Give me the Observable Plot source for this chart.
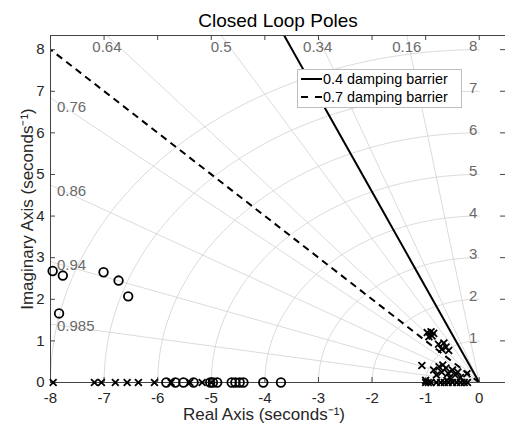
<!DOCTYPE html>
<html><head><meta charset="utf-8">
<script src="https://cdn.jsdelivr.net/npm/d3@7"></script>
<script src="https://cdn.jsdelivr.net/npm/@observablehq/plot@0.6"></script>
<style>
body{margin:0;background:#fff;font-family:"Liberation Sans",Arial,sans-serif}
#wrap{position:relative;width:505px;height:433px;overflow:hidden}
#legend{position:absolute;left:297px;top:69px;width:163px;height:37px;background:#fff;border:1px solid #bdbdbd;font-size:14.4px;color:#000}
#legend .row{position:absolute;left:0;height:18px;display:flex;align-items:center}
#legend svg{margin-left:3px;margin-right:1px}
</style></head><body><div id="wrap"><div id="legend"></div></div>
<script>
// ---- data ----
const zetaGrid = [0.16, 0.34, 0.5, 0.64, 0.76, 0.86, 0.94, 0.985];
const wnGrid = [1, 2, 3, 4, 5, 6, 7, 8];
const xTicks = [-8, -7, -6, -5, -4, -3, -2, -1, 0];
const yTicks = [0, 1, 2, 3, 4, 5, 6, 7, 8];
const barrierZeta = [0.4, 0.707];
const barrierLabels = ["0.4 damping barrier", "0.7 damping barrier"];
const barrierDash = [null, "7,5"];

// zeros (circles)
const zeroRe = [-7.96, -7.77, -7.84, -7.01, -6.73, -6.55,
  -5.84, -5.67, -5.52, -5.33, -5.02, -4.97, -4.89, -4.62, -4.55, -4.47, -4.40, -4.03, -3.70];
const zeroIm = [2.68, 2.57, 1.66, 2.65, 2.45, 2.07,
  0, 0, 0, 0, 0, 0, 0, 0, 0, 0, 0, 0, 0];

// poles (crosses)
const poleRe = [-7.95, -7.18, -7.05, -6.79, -6.57, -6.36, -6.06, -5.75, -5.40, -5.17, -5.00,
  -0.97, -0.90, -0.88, -0.94, -0.85,
  -0.76, -0.66, -0.62, -0.70, -0.57,
  -1.07, -0.85, -0.75, -0.68, -0.62, -0.70, -0.58, -0.50, -0.45, -0.40, -0.35, -0.80, -0.55, -0.23,
  -1.00, -0.95, -0.90, -0.80, -0.72, -0.65, -0.58, -0.50, -0.42, -0.35, -0.28, -0.22, -1.00, -0.60];
const poleIm = [0, 0, 0, 0, 0, 0, 0, 0, 0, 0, 0,
  1.20, 1.22, 1.12, 1.10, 1.18,
  0.92, 0.95, 0.85, 0.80, 0.77,
  0.41, 0.30, 0.38, 0.42, 0.35, 0.25, 0.22, 0.30, 0.18, 0.25, 0.12, 0.18, 0.12, 0.21,
  0, 0, 0, 0, 0, 0, 0, 0, 0, 0, 0, 0, 0.05, 0.05];

const xDomain = [-8, 0.49];
const yDomain = [0, 8.34];

// ---- derived tables ----
const W = 505, H = 433, mL = 50, mR = 0, mT = 35, mB = 51;
const pw = W - mL - mR, ph = H - mT - mB;
const zeros = zeroRe.map((x, i) => ({x, y: zeroIm[i]}));
const poles = poleRe.map((x, i) => ({x, y: poleIm[i]}));
const arcs = wnGrid.flatMap(w => d3.range(0, 90.5, 1.5).map(a => ({w, x: -w * Math.cos(a * Math.PI / 180), y: w * Math.sin(a * Math.PI / 180)})));
const ray = z => ({z, x2: -30 * z, y2: 30 * Math.sqrt(1 - z * z), t: Math.sqrt(1 - z * z) / z});
const rays = zetaGrid.map(ray);
const topLab = rays.filter(r => r.t * 8 > yDomain[1]).map(r => ({z: r.z, x: -yDomain[1] / r.t, y: yDomain[1] - 0.27}));
const leftLab = rays.filter(r => r.t * 8 <= yDomain[1]).map(r => ({z: r.z, x: -7.88, y: 7.75 * r.t}));
const barriers = barrierZeta.map((z, i) => ({...ray(z), dash: barrierDash[i]}));
const grid = "#d2d2d2", labGray = "#6a6a6a", ink = "#262626";

const chart = Plot.plot({
  width: W, height: H,
  marginLeft: mL, marginRight: mR, marginTop: mT, marginBottom: mB,
  x: {domain: xDomain, axis: null},
  y: {domain: yDomain, axis: null},
  style: {fontFamily: "Liberation Sans, Arial, sans-serif", background: "white"},
  marks: [
    Plot.line(arcs, {x: "x", y: "y", z: "w", stroke: grid, strokeWidth: 0.8, clip: true}),
    Plot.link(rays, {x1: 0, y1: 0, x2: "x2", y2: "y2", stroke: grid, strokeWidth: 0.8, clip: true}),
    Plot.text(topLab, {x: "x", y: "y", text: d => String(d.z), fill: labGray, fontSize: 15}),
    Plot.text(leftLab, {x: "x", y: "y", text: d => String(d.z), fill: labGray, fontSize: 15, textAnchor: "start"}),
    Plot.text(wnGrid, {x: 0, y: d => d, text: d => String(d), fill: labGray, fontSize: 15, textAnchor: "end", dx: -2, dy: -3}),
    Plot.link(barriers.filter(b => !b.dash), {x1: 0, y1: 0, x2: "x2", y2: "y2", stroke: "black", strokeWidth: 2, clip: true}),
    Plot.link(barriers.filter(b => b.dash), {x1: 0, y1: 0, x2: "x2", y2: "y2", stroke: "black", strokeWidth: 2, strokeDasharray: "7,5", clip: true}),
    // frame lines
    Plot.ruleY([yDomain[0]], {stroke: "#444", strokeWidth: 1}),
    Plot.ruleY([yDomain[1]], {stroke: "#444", strokeWidth: 1}),
    Plot.ruleX([xDomain[0]], {stroke: "#444", strokeWidth: 1}),
    // inward ticks
    Plot.tickX(xTicks, {x: d => d, stroke: "#444", insetTop: ph - 5}),
    Plot.tickX(xTicks, {x: d => d, stroke: "#444", insetBottom: ph - 5}),
    Plot.tickY(yTicks, {y: d => d, stroke: "#444", insetRight: pw - 5}),
    Plot.tickY(yTicks, {y: d => d, stroke: "#444", insetLeft: pw - 5}),
    // tick labels
    Plot.text(xTicks, {x: d => d, frameAnchor: "bottom", lineAnchor: "middle", text: d => String(d), dy: 16, fill: ink, fontSize: 15}),
    Plot.text(yTicks, {y: d => d, frameAnchor: "left", text: d => String(d), dx: -6, textAnchor: "end", fill: ink, fontSize: 15}),
    // data
    Plot.dot(zeros, {x: "x", y: "y", r: 4.3, stroke: "black", strokeWidth: 1.8, fill: "none"}),
    Plot.dot(poles, {x: "x", y: "y", symbol: "times", r: 3.2, stroke: "black", strokeWidth: 1.8}),
    // titles
    Plot.text(["Closed Loop Poles"], {frameAnchor: "top", lineAnchor: "middle", textAnchor: "middle", dy: -15, fontSize: 19, fill: "black"}),
    Plot.text(["Real Axis (seconds⁻¹)"], {frameAnchor: "bottom", lineAnchor: "middle", textAnchor: "middle", dy: 32, dx: -14, fontSize: 17, fill: ink}),
    Plot.text(["Imaginary Axis (seconds⁻¹)"], {frameAnchor: "left", lineAnchor: "middle", textAnchor: "middle", dx: -23, rotate: -90, fontSize: 17, fill: ink})
  ]
});
const wrap = document.getElementById("wrap");
wrap.insertBefore(chart, wrap.firstChild);

const leg = document.getElementById("legend");
barrierLabels.forEach((lab, i) => {
  const row = document.createElement("div");
  row.className = "row";
  row.style.top = (0 + i * 18) + "px";
  row.innerHTML = `<svg width="21" height="10"><line x1="0" y1="5" x2="21" y2="5" stroke="black" stroke-width="2" ${barrierDash[i] ? `stroke-dasharray="7,7"` : ""}/></svg><span>${lab}</span>`;
  leg.appendChild(row);
});
</script>
</body></html>
